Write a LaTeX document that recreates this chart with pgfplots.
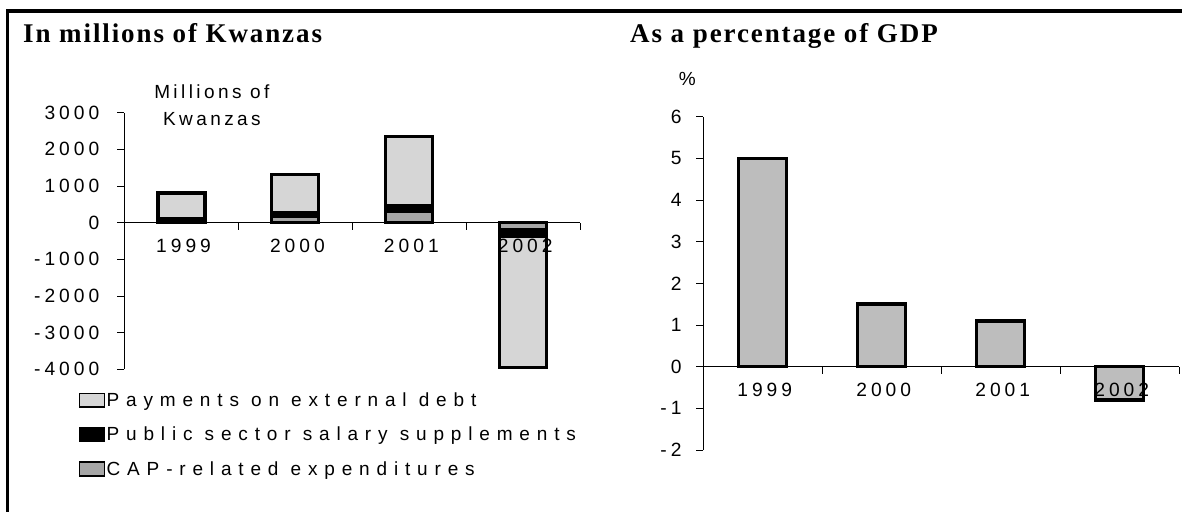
\documentclass[border=0pt]{standalone}
\usepackage{fontspec}
\setmainfont{Liberation Sans}
\newfontfamily\tickfont{Liberation Sans}[LetterSpace=21]
\newfontfamily\labfont{Liberation Sans}[LetterSpace=18]
\newfontfamily\legfont{Liberation Sans}[LetterSpace=36]
\newfontfamily\titlefont{Liberation Serif}[LetterSpace=7]
\usepackage{pgfplots}
\pgfplotsset{compat=1.18}
\pgfplotsset{
  common/.style={
    scale only axis,
    anchor=south west,
    axis on top,
    axis x line*=middle,
    axis y line*=left,
    xmin=-0.5, xmax=3.5,
    tick align=outside,
    major tick length=7pt,
    axis line style={line width=0.8pt},
    tick style={line width=0.8pt, black},
    xtick={-0.5,0.5,1.5,2.5,3.5},
    xticklabels={},
    extra x ticks={0,1,2,3},
    extra x tick labels={1999,2000,2001,2002},
    extra x tick style={major tick length=0pt},
    xticklabel style={anchor=north, yshift=-13pt, xshift=2.2pt},
    ticklabel style={font=\tickfont\fontsize{19.2}{20}\selectfont},
    /pgf/number format/assume math mode=true,
    /pgf/number format/1000 sep={},
    scaled y ticks=false,
    every axis plot/.append style={draw=black, line width=3.4pt},
  }
}
\begin{document}
\begin{tikzpicture}
\path[use as bounding box] (0pt,0pt) rectangle (1182pt,-512pt);
\draw[line width=4pt] (6pt,-11pt) -- (1182pt,-11pt);
\draw[line width=3pt] (7.5pt,-9pt) -- (7.5pt,-512pt);
\node[anchor=base west, inner sep=0pt, font=\titlefont\bfseries\fontsize{27}{30}\selectfont] at (23pt,-42.5pt) {In millions of Kwanzas};
\node[anchor=base west, inner sep=0pt, font=\titlefont\bfseries\fontsize{27}{30}\selectfont] at (630pt,-42.5pt) {As a percentage of GDP};

\begin{axis}[common,
  at={(124.4pt,-369.3pt)},
  width=455.6pt, height=256.6pt,
  ymin=-4000, ymax=3000,
  ytick={-4000,-3000,-2000,-1000,0,1000,2000,3000},
  yticklabel style={anchor=east, xshift=-14.5pt},
  ybar stacked, bar width=47pt,
  ylabel={Millions of\\Kwanzas},
  every axis y label/.style={at={(axis description cs:0.192,1.108)}, anchor=north, align=center, inner sep=0pt,
     font=\labfont\fontsize{19}{27}\selectfont},
  reverse legend,
  legend cell align=left,
  legend style={at={(axis description cs:-0.101,-0.085)}, anchor=north west, draw=none, fill=none,
     font=\legfont\fontsize{19}{20}\selectfont, row sep=16pt, inner sep=0pt,
     nodes={inner sep=1.5pt}},
  legend image code/.code={\draw[#1, line width=1.6pt] (0pt,-6.8pt) rectangle (25pt,6.8pt);},
]
\addplot[fill=gray!70] coordinates {(0,0) (1,180) (2,320) (3,-180)};
\addplot[fill=black] coordinates {(0,110) (1,80) (2,150) (3,-200)};
\addplot[fill=gray!32] coordinates {(0,700) (1,1050) (2,1880) (3,-3570)};
\legend{CAP-related expenditures, Public sector salary supplements, Payments on external debt}
\end{axis}

\begin{axis}[common,
  at={(703pt,-450pt)},
  width=476pt, height=333.3pt,
  ymin=-2, ymax=6,
  ytick={-2,-1,0,1,2,3,4,5,6},
  yticklabel style={anchor=east, xshift=-11pt},
  ybar, bar width=48pt,
  ylabel={\%},
  every axis y label/.style={at={(axis description cs:-0.033,1.134)}, anchor=north, inner sep=0pt,
     font=\labfont\fontsize{19}{22}\selectfont},
]
\addplot[fill=gray!52] coordinates {(0,5.0) (1,1.5) (2,1.1) (3,-0.8)};
\end{axis}
\end{tikzpicture}
\end{document}
